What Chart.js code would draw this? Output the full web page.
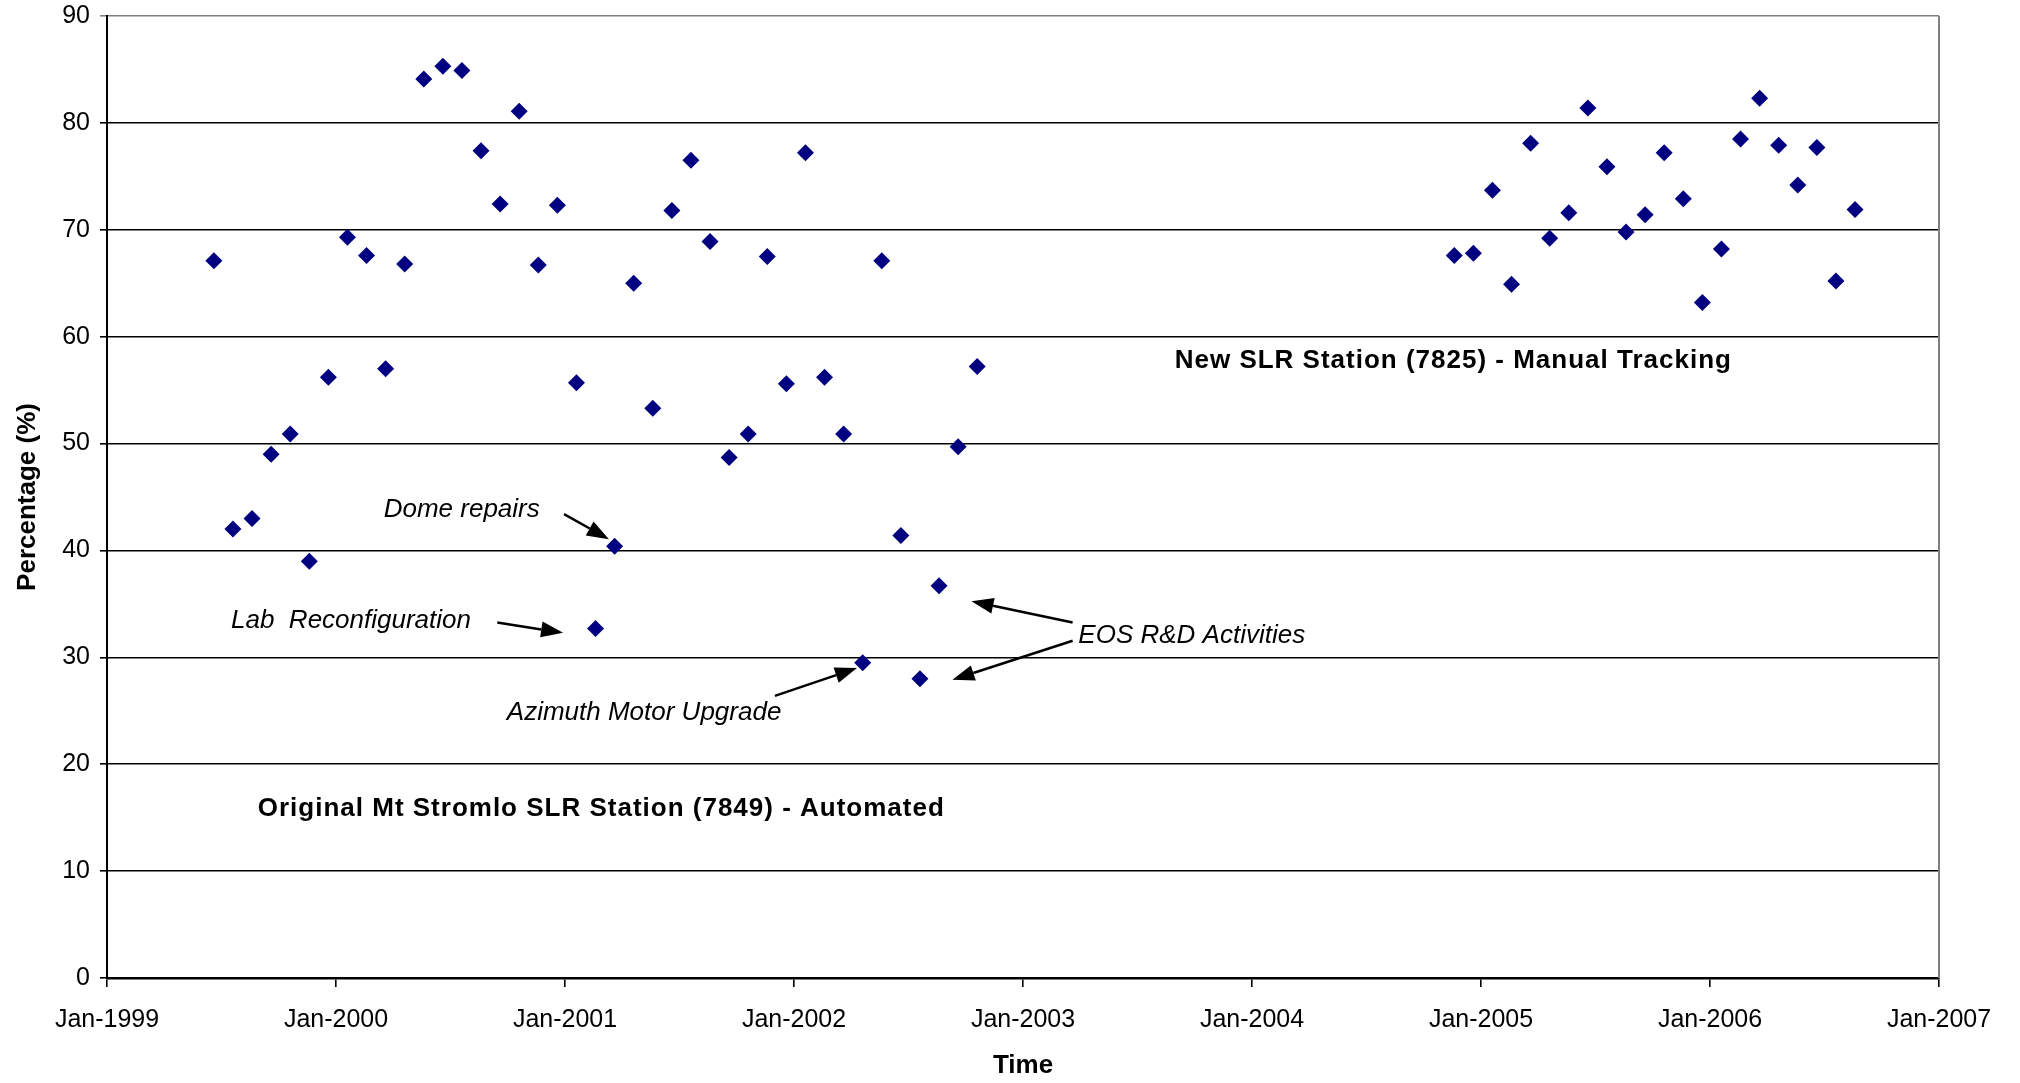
<!DOCTYPE html>
<html>
<head>
<meta charset="utf-8">
<script src="https://cdn.jsdelivr.net/npm/chart.js@4.4.1/dist/chart.umd.min.js"></script>
<style>
  html, body { margin: 0; padding: 0; background: #fff; }
  canvas { display: block; }
</style>
</head>
<body>
<canvas id="slrChart" width="2020" height="1083"></canvas>
<script>
const xTickLabels = ["Jan-1999", "Jan-2000", "Jan-2001", "Jan-2002", "Jan-2003",
  "Jan-2004", "Jan-2005", "Jan-2006", "Jan-2007"];

// Original Mt Stromlo SLR Station (7849) - monthly percentage
const oldStationMonths = [
  "1999-06", "1999-07", "1999-08", "1999-09", "1999-10", "1999-11", "1999-12",
  "2000-01", "2000-02", "2000-03", "2000-04", "2000-05", "2000-06",
  "2000-07", "2000-08", "2000-09", "2000-10", "2000-11", "2000-12",
  "2001-01", "2001-02", "2001-03", "2001-04", "2001-05", "2001-06",
  "2001-07", "2001-08", "2001-09", "2001-10", "2001-11", "2001-12",
  "2002-01", "2002-02", "2002-03", "2002-04", "2002-05", "2002-06",
  "2002-07", "2002-08", "2002-09", "2002-10"
];
const oldStationValues = [
  67.1, 42.0, 43.0, 49.0, 50.9, 39.0, 56.2,
  69.3, 67.6, 57.0, 66.8, 84.1, 85.3,
  84.9, 77.4, 72.4, 81.1, 66.7, 72.3,
  55.7, 32.7, 40.4, 65.0, 53.3, 71.8,
  76.5, 68.9, 48.7, 50.9, 67.5, 55.6,
  77.2, 56.2, 50.9, 29.5, 67.1, 41.4,
  28.0, 36.7, 49.7, 57.2
];

// New SLR Station (7825) - monthly percentage
const newStationMonths = [
  "2004-11", "2004-12",
  "2005-01", "2005-02", "2005-03", "2005-04", "2005-05", "2005-06",
  "2005-07", "2005-08", "2005-09", "2005-10", "2005-11", "2005-12",
  "2006-01", "2006-02", "2006-03", "2006-04", "2006-05", "2006-06",
  "2006-07", "2006-08"
];
const newStationValues = [
  67.6, 67.8,
  73.7, 64.9, 78.1, 69.2, 71.6, 81.4,
  75.9, 69.8, 71.4, 77.2, 72.9, 63.2,
  68.2, 78.5, 82.3, 77.9, 74.2, 77.7,
  65.2, 71.9
];

// points sit a little past the start of their month
const DAY_OFFSET = 0.6;

function monthPos(ym) {
  const [yr, mo] = ym.split("-").map(Number);
  return (yr - 1999) * 12 + (mo - 1) + DAY_OFFSET;
}

function toPoints(months, values) {
  return months.map((m, i) => ({ x: monthPos(m), y: values[i] }));
}

// annotation text, anchored on its left edge, in axis units (months, %)
const italicFont = "italic 26px 'Liberation Sans'";
const boldFont = "bold 26px 'Liberation Sans'";
const notes = [
  { text: "Dome repairs", x: 14.5, y: 43.8, font: italicFont, spacing: 0 },
  { text: "Lab  Reconfiguration", x: 6.5, y: 33.4, font: italicFont, spacing: 0 },
  { text: "Azimuth Motor Upgrade", x: 20.95, y: 24.8, font: italicFont, spacing: 0 },
  { text: "EOS R&D Activities", x: 50.9, y: 32.0, font: italicFont, spacing: 0 },
  { text: "New SLR Station (7825) - Manual Tracking", x: 55.95, y: 57.7, font: boldFont, spacing: 1 },
  { text: "Original Mt Stromlo SLR Station (7849) - Automated", x: 7.9, y: 15.8, font: boldFont, spacing: 1 }
];
const arrows = [
  { from: [23.95, 43.4], to: [26.3, 41.05] },
  { from: [20.45, 33.25], to: [23.9, 32.3] },
  { from: [35.0, 26.4], to: [39.3, 29.0] },
  { from: [50.6, 33.25], to: [45.3, 35.25] },
  { from: [50.6, 31.55], to: [44.3, 27.9] }
];

const annotate = {
  id: "annotate",
  afterDatasetsDraw(chart) {
    const { ctx, chartArea, scales } = chart;
    const sx = scales.x, sy = scales.y;
    ctx.save();

    ctx.strokeStyle = "#808080";
    ctx.lineWidth = 2;
    ctx.beginPath();
    ctx.moveTo(chartArea.right, chartArea.top);
    ctx.lineTo(chartArea.right, chartArea.bottom);
    ctx.stroke();

    ctx.fillStyle = "#000";
    ctx.textAlign = "left";
    ctx.textBaseline = "middle";
    notes.forEach((n) => {
      ctx.font = n.font;
      ctx.letterSpacing = n.spacing + "px";
      ctx.fillText(n.text, sx.getPixelForValue(n.x), sy.getPixelForValue(n.y));
    });
    ctx.letterSpacing = "0px";

    ctx.strokeStyle = "#000";
    ctx.lineWidth = 2.5;
    arrows.forEach((a) => {
      const x1 = sx.getPixelForValue(a.from[0]), y1 = sy.getPixelForValue(a.from[1]);
      const x2 = sx.getPixelForValue(a.to[0]), y2 = sy.getPixelForValue(a.to[1]);
      const ang = Math.atan2(y2 - y1, x2 - x1);
      const headLen = 22, headW = 8;
      const bx = x2 - headLen * Math.cos(ang), by = y2 - headLen * Math.sin(ang);
      ctx.beginPath();
      ctx.moveTo(x1, y1);
      ctx.lineTo(bx, by);
      ctx.stroke();
      ctx.beginPath();
      ctx.moveTo(x2, y2);
      ctx.lineTo(bx + headW * Math.sin(ang), by - headW * Math.cos(ang));
      ctx.lineTo(bx - headW * Math.sin(ang), by + headW * Math.cos(ang));
      ctx.closePath();
      ctx.fill();
    });
    ctx.restore();
  }
};

const tickFont = { family: "'Liberation Sans'", size: 25 };
const titleFont = { family: "'Liberation Sans'", size: 26, weight: "bold" };

new Chart(document.getElementById("slrChart"), {
  type: "scatter",
  data: {
    datasets: [
      {
        label: "Original Mt Stromlo SLR Station (7849)",
        data: toPoints(oldStationMonths, oldStationValues),
        backgroundColor: "#000080",
        borderWidth: 0,
        pointStyle: "rectRot",
        pointRadius: 8.5,
      },
      {
        label: "New SLR Station (7825)",
        data: toPoints(newStationMonths, newStationValues),
        backgroundColor: "#000080",
        borderWidth: 0,
        pointStyle: "rectRot",
        pointRadius: 8.5,
      },
    ],
  },
  options: {
    responsive: false,
    animation: false,
    layout: { padding: { top: 1, right: 81, left: 0, bottom: 0 } },
    plugins: {
      legend: { display: false },
      tooltip: { enabled: false },
    },
    scales: {
      x: {
        type: "linear",
        min: 0,
        max: 96,
        afterFit: (s) => { s.height = 105; },
        ticks: {
          stepSize: 12,
          autoSkip: false,
          maxRotation: 0,
          padding: 18,
          color: "#000",
          font: tickFont,
          callback: (v) => xTickLabels[v / 12],
        },
        grid: { drawOnChartArea: false, tickLength: 9, color: "#000", lineWidth: 1.6 },
        border: { color: "#000", width: 2.5 },
        title: { display: true, text: "Time", color: "#000", font: titleFont, padding: { top: 0, bottom: 2 } },
      },
      y: {
        min: 0,
        max: 90,
        afterFit: (s) => { s.width = 107; s.paddingTop = 16; },
        ticks: { stepSize: 10, padding: 10, color: "#000", font: tickFont },
        grid: {
          color: (c) => (c.tick.value === 90 ? "#808080" : "#000"),
          lineWidth: 1.6,
          tickLength: 7,
        },
        border: { color: "#000", width: 2 },
        title: { display: true, text: "Percentage (%)", color: "#000", font: titleFont, padding: { top: 12, bottom: 0 } },
      },
    },
  },
  plugins: [annotate],
});
</script>
</body>
</html>
